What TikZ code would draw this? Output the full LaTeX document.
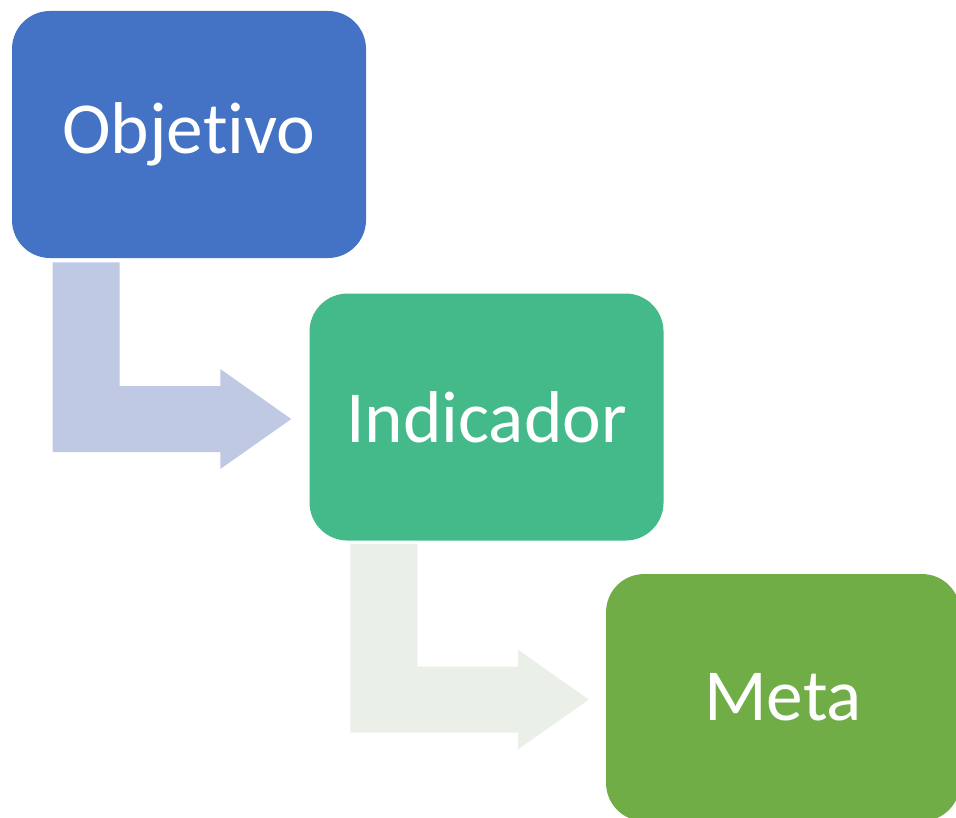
\documentclass[tikz,border=0pt]{standalone}
\usepackage{fontspec}
\setmainfont{Carlito}[Ligatures={NoCommon}]
\usetikzlibrary{calc}
\usetikzlibrary{positioning}
\definecolor{objblue}{HTML}{4472C4}
\definecolor{indgreen}{HTML}{44BA8B}
\definecolor{metagreen}{HTML}{70AD47}
\definecolor{arrowblue}{HTML}{BFC9E4}
\definecolor{arrowgrey}{HTML}{EAEFE8}
\tikzset{x=0.75pt, y=0.75pt, % one unit = one pixel of the reference
  every node/.style={align=center},
  stepbox/.style={ % the three rounded boxes
    rectangle, rounded corners=28.5pt,
    minimum width=265.5pt, minimum height=185.25pt,
    inner sep=0pt, text=white,
    font=\fontsize{55}{58}\selectfont}}

\begin{document}
\begin{tikzpicture}
  \useasboundingbox (0,0) rectangle (956,-817);

  \node [stepbox, fill=objblue] (obj) at (189,-134.5) {Objetivo};
  \node [stepbox, fill=indgreen, below right=26.25pt and -42.75pt of obj] (ind) {Indicador};
  \node [stepbox, fill=metagreen, below right=24.75pt and -43.5pt of ind] (meta) {Meta};

  % bent arrows: top left of the bar, then the tip
  \coordinate (a1s) at ($(obj.south west)+(41,-4)$);
  \coordinate (a1t) at ($(ind.west)+(-18,-2)$);
  \coordinate (a2s) at ($(ind.south west)+(41,-3)$);
  \coordinate (a2t) at ($(meta.west)+(-17,-2)$);

  \fill[arrowblue] (a1s) -- ++(67,0) |- ($(a1t)+(-71,33)$) -- ++(0,17) -- (a1t)
    -- ++(-71,-50) -- ++(0,17) -| (a1s) -- cycle;
  \fill[arrowgrey] (a2s) -- ++(67,0) |- ($(a2t)+(-71,33)$) -- ++(0,17) -- (a2t)
    -- ++(-71,-50) -- ++(0,17) -| (a2s) -- cycle;
\end{tikzpicture}
\end{document}
